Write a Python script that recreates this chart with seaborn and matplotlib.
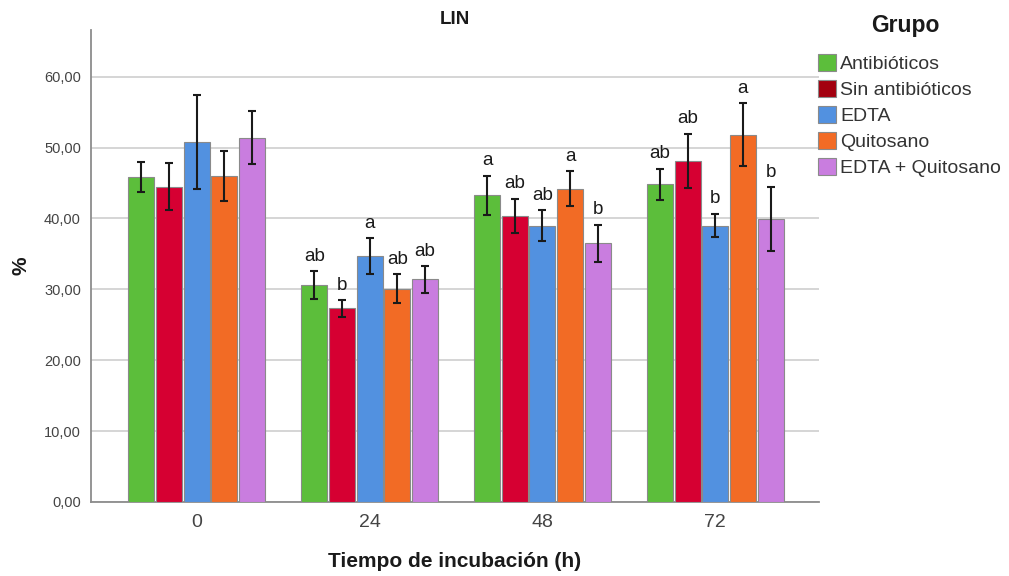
import numpy as np
import pandas as pd
import matplotlib
matplotlib.use("Agg")
import matplotlib.pyplot as plt
from matplotlib.patches import Patch
from matplotlib.ticker import FuncFormatter
import seaborn as sns

# ---- data -------------------------------------------------------------
times = ["0", "24", "48", "72"]
groups = ["Antibióticos", "Sin antibióticos", "EDTA", "Quitosano", "EDTA + Quitosano"]

means = {
    "Antibióticos":     [45.8, 30.6, 43.3, 44.8],
    "Sin antibióticos": [44.5, 27.3, 40.4, 48.1],
    "EDTA":             [50.8, 34.7, 39.0, 39.0],
    "Quitosano":        [46.0, 30.1, 44.2, 51.8],
    "EDTA + Quitosano": [51.4, 31.4, 36.5, 39.9],
}
errors = {
    "Antibióticos":     [2.1, 2.0, 2.75, 2.25],
    "Sin antibióticos": [3.3, 1.15, 2.4, 3.85],
    "EDTA":             [6.6, 2.5, 2.15, 1.65],
    "Quitosano":        [3.5, 2.05, 2.45, 4.45],
    "EDTA + Quitosano": [3.7, 1.9, 2.65, 4.55],
}
letters = {
    "Antibióticos":     ["", "ab", "a", "ab"],
    "Sin antibióticos": ["", "b", "ab", "ab"],
    "EDTA":             ["", "a", "ab", "b"],
    "Quitosano":        ["", "ab", "a", "a"],
    "EDTA + Quitosano": ["", "ab", "b", "b"],
}

bar_colors = ["#5CBE3B", "#D60032", "#5291E0", "#F26B25", "#C97DDF"]
legend_colors = ["#5CBE3B", "#A3000F", "#5291E0", "#F26B25", "#C97DDF"]

rows = []
for g in groups:
    for t, m in zip(times, means[g]):
        rows.append({"Tiempo": t, "Grupo": g, "valor": m})
df = pd.DataFrame(rows)

# ---- style ------------------------------------------------------------
sns.set_style("white")
plt.rcParams["font.family"] = ["Liberation Sans", "DejaVu Sans"]

fig = plt.figure(figsize=(10.09, 5.76), dpi=100)
ax = fig.add_axes([0.0899, 0.1285, 0.7218, 0.8195])

sns.barplot(
    data=df, x="Tiempo", y="valor", hue="Grupo",
    order=times, hue_order=groups, palette=bar_colors,
    errorbar=None, width=0.8, gap=0.06,
    edgecolor="#8a8a8a", linewidth=0.8, saturation=1,
    legend=False, ax=ax, zorder=3,
)

# error bars and significance letters on each bar
for g, cont in zip(groups, ax.containers):
    for i, bar in enumerate(cont):
        xc = bar.get_x() + bar.get_width() / 2
        h = bar.get_height()
        e = errors[g][i]
        ax.errorbar(xc, h, yerr=e, fmt="none", ecolor="#1a1a1a",
                    elinewidth=1.5, capsize=3, capthick=1.5, zorder=4)
        if letters[g][i]:
            ax.text(xc, h + e + 0.9, letters[g][i], ha="center", va="bottom",
                    fontsize=13.5, color="#1a1a1a", zorder=5)

ax.set_ylim(0, 66.6)
ax.set_xlim(-0.613, 3.6)
ax.set_yticks(np.arange(0, 61, 10))
ax.yaxis.set_major_formatter(FuncFormatter(lambda v, p: f"{v:.2f}".replace(".", ",")))
ax.grid(axis="y", color="#d2d2d2", linewidth=1.3, zorder=0)
ax.set_axisbelow(True)
for s in ["top", "right"]:
    ax.spines[s].set_visible(False)
for s in ["left", "bottom"]:
    ax.spines[s].set_color("#8c8c8c")
    ax.spines[s].set_linewidth(1.3)
ax.tick_params(axis="both", length=0)
ax.tick_params(axis="y", labelsize=10.5, colors="#444444", pad=7)
ax.tick_params(axis="x", labelsize=14, colors="#444444", pad=9)

ax.set_xlabel("Tiempo de incubación (h)", fontsize=15, fontweight="bold",
              color="#1a1a1a", labelpad=15)
ax.set_ylabel("%", fontsize=15, fontweight="bold", color="#1a1a1a")
ax.yaxis.set_label_coords(-0.082, 0.5)
ax.set_title("LIN", fontsize=13.5, fontweight="bold", color="#1a1a1a", pad=4, y=1.0)

# legend placed to the right of the plotting area
fig.text(0.897, 0.956, "Grupo", fontsize=16.5, fontweight="bold",
         color="#1a1a1a", ha="center", va="center")
handles = [Patch(facecolor=c, edgecolor="#8a8a8a", linewidth=0.8) for c in legend_colors]
fig.legend(handles, groups, loc="upper left", bbox_to_anchor=(0.803, 0.92),
           frameon=False, fontsize=14, handlelength=0.95, handleheight=0.95,
           handletextpad=0.2, labelspacing=0.36, borderaxespad=0,
           labelcolor="#333333")

fig.savefig("out.png", dpi=100)
